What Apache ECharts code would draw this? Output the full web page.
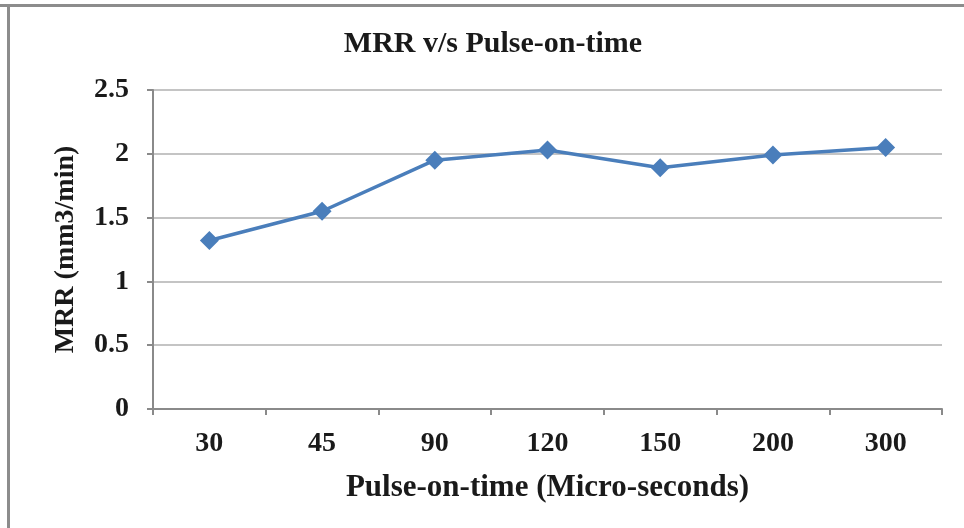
<!DOCTYPE html>
<html>
<head>
<meta charset="utf-8">
<script src="https://cdn.jsdelivr.net/npm/echarts@6/dist/echarts.min.js"></script>
<style>
  html, body { margin: 0; padding: 0; background: #fff; }
  #chart { width: 964px; height: 528px; }
</style>
</head>
<body>
<div id="chart"></div>
<script>
// Pulse-on-time settings (micro-seconds) and measured material removal rate
const pulseOnTime = ['30', '45', '90', '120', '150', '200', '300'];
const mrrValues = [1.32, 1.55, 1.95, 2.03, 1.89, 1.99, 2.05];
const yTicks = { min: 0, max: 2.5, interval: 0.5 };

const serif = '"Liberation Serif", "Times New Roman", serif';

const chart = echarts.init(document.getElementById('chart'));
chart.setOption({
  backgroundColor: '#ffffff',
  animation: false,
  title: {
    text: 'MRR v/s Pulse-on-time',
    left: 488,
    top: 24,
    textAlign: 'center',
    textStyle: { fontFamily: serif, fontWeight: 'bold', fontSize: 30, color: '#1a1a1a' }
  },
  grid: { left: 153, right: 22, top: 90, bottom: 119 },
  xAxis: {
    type: 'category',
    data: pulseOnTime,
    boundaryGap: true,
    name: 'Pulse-on-time (Micro-seconds)',
    nameLocation: 'middle',
    nameGap: 63,
    nameTextStyle: { fontFamily: serif, fontWeight: 'bold', fontSize: 31, color: '#1a1a1a' },
    axisLine: { lineStyle: { color: '#8a8a8a', width: 2 } },
    axisTick: { show: true, alignWithLabel: false, length: 6, lineStyle: { color: '#8a8a8a', width: 2 } },
    axisLabel: { fontFamily: serif, fontWeight: 'bold', fontSize: 28, color: '#1a1a1a', margin: 21 },
    splitLine: { show: false }
  },
  yAxis: {
    type: 'value',
    min: yTicks.min,
    max: yTicks.max,
    interval: yTicks.interval,
    name: 'MRR (mm3/min)',
    nameLocation: 'middle',
    nameGap: 73,
    nameRotate: 90,
    nameTextStyle: { fontFamily: serif, fontWeight: 'bold', fontSize: 28, color: '#1a1a1a' },
    axisLine: { show: true, lineStyle: { color: '#8a8a8a', width: 2 } },
    axisTick: { show: true, length: 6, lineStyle: { color: '#8a8a8a', width: 2 } },
    axisLabel: { fontFamily: serif, fontWeight: 'bold', fontSize: 28, color: '#1a1a1a', margin: 24 },
    splitLine: { show: true, lineStyle: { color: '#c4c4c4', width: 2 } }
  },
  series: [{
    type: 'line',
    data: mrrValues,
    symbol: 'diamond',
    symbolSize: 19,
    lineStyle: { color: '#4a7ebb', width: 3.5 },
    itemStyle: { color: '#4a7ebb' },
    z: 3
  }],
  graphic: [
    // frame edges around the plot
    { type: 'rect', shape: { x: 0, y: 4, width: 964, height: 3 }, style: { fill: '#8c8c8c' }, silent: true },
    { type: 'rect', shape: { x: 7, y: 4, width: 3, height: 524 }, style: { fill: '#8c8c8c' }, silent: true }
  ]
});
</script>
</body>
</html>
